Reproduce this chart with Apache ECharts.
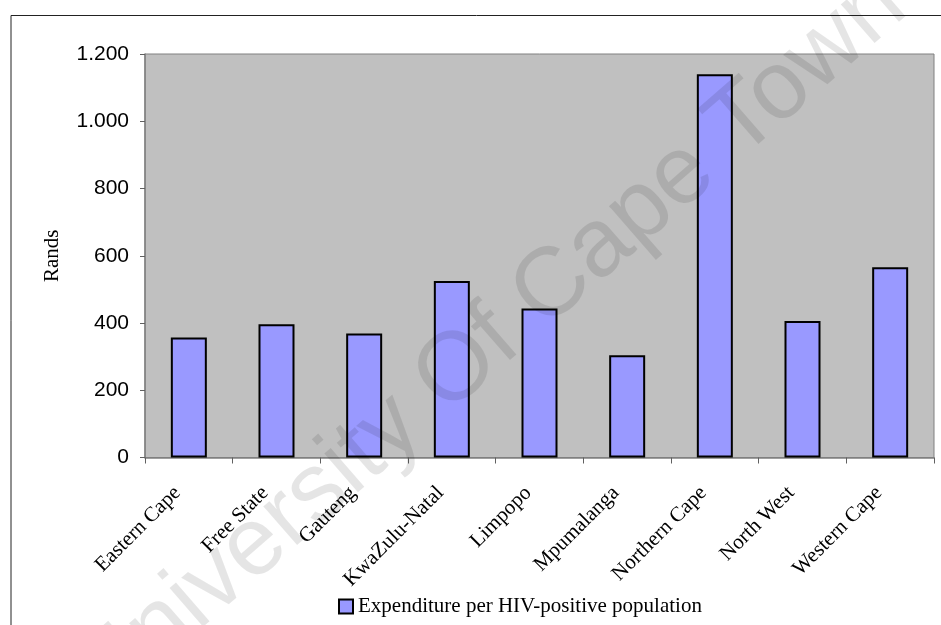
<!DOCTYPE html>
<html>
<head>
<meta charset="utf-8">
<style>
  html, body { margin: 0; padding: 0; background: #ffffff; }
  #chart { width: 941px; height: 625px; }
</style>
<script src="https://cdn.jsdelivr.net/npm/echarts@6/dist/echarts.min.js"></script>
</head>
<body>
<div id="chart"></div>
<script>
// Provincial expenditure per HIV-positive person, in Rands
const provinces = [
  'Eastern Cape', 'Free State', 'Gauteng', 'KwaZulu-Natal', 'Limpopo',
  'Mpumalanga', 'Northern Cape', 'North West', 'Western Cape'
];
const expenditure = [357, 396, 369, 525, 443, 304, 1140, 406, 566];
const seriesName = 'Expenditure per HIV-positive population';
const axisTitle = 'Rands';
const yTicks = { min: 0, max: 1200, interval: 200 };

// European-style thousands separator: 1200 -> "1.200"
function fmtThousands(v) {
  return String(v).replace(/\B(?=(\d{3})+(?!\d))/g, '.');
}

const chart = echarts.init(document.getElementById('chart'), null, { renderer: 'canvas' });

chart.setOption({
  animation: false,
  backgroundColor: '#ffffff',
  grid: {
    left: 145, top: 54, right: 7, bottom: 167.5,
    show: true,
    backgroundColor: '#C0C0C0',
    borderColor: '#808080',
    borderWidth: 1
  },
  legend: {
    data: [seriesName],
    left: 333,
    top: 591,
    itemWidth: 14,
    itemHeight: 14,
    itemGap: 5,
    icon: 'rect',
    textStyle: { fontFamily: 'Liberation Serif', fontSize: 21, color: '#000' }
  },
  xAxis: {
    type: 'category',
    data: provinces,
    axisLine: { show: true, lineStyle: { color: '#808080', width: 1.5 } },
    axisTick: { show: true, length: 6, lineStyle: { color: '#606060' } },
    axisLabel: {
      interval: 0,
      rotate: 45,
      margin: 21,
      padding: [0, 16, 0, 0],
      fontFamily: 'Liberation Serif',
      fontSize: 21,
      color: '#000'
    },
    splitLine: { show: false }
  },
  yAxis: {
    type: 'value',
    min: yTicks.min,
    max: yTicks.max,
    interval: yTicks.interval,
    name: axisTitle,
    nameLocation: 'middle',
    nameGap: 82,
    nameRotate: 90,
    nameTextStyle: { fontFamily: 'Liberation Serif', fontSize: 21, color: '#000' },
    axisLine: { show: true, lineStyle: { color: '#808080', width: 1.5 } },
    axisTick: { show: true, length: 5, lineStyle: { color: '#606060' } },
    axisLabel: {
      margin: 16,
      fontFamily: 'Liberation Sans',
      fontSize: 21,
      color: '#000',
      formatter: fmtThousands
    },
    splitLine: { show: false }
  },
  series: [{
    name: seriesName,
    type: 'bar',
    data: expenditure,
    barWidth: 36,
    itemStyle: { color: '#9999FF', borderColor: '#000000', borderWidth: 2 }
  }],
  graphic: [
    {
      // outer frame around the chart
      type: 'rect',
      z: 100,
      shape: { x: 11, y: 15.5, width: 1000, height: 700 },
      style: { fill: 'none', stroke: '#222222', lineWidth: 1 }
    },
    {
      // diagonal watermark
      type: 'text',
      z: 200,
      x: 490,
      y: 342,
      rotation: 41 * Math.PI / 180,
      style: {
        text: 'University Of Cape Town',
        font: '97px "Liberation Sans"',
        fill: 'rgba(0,0,0,0.1)',
        align: 'center',
        verticalAlign: 'middle'
      }
    }
  ]
});
</script>
</body>
</html>
